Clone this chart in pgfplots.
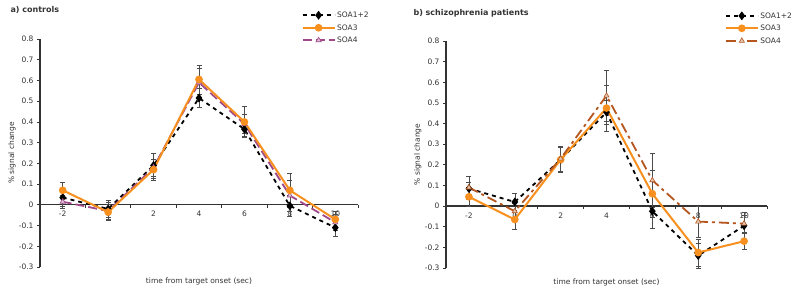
\documentclass[border=0pt]{standalone}
\usepackage{fontspec}
\setmainfont{DejaVu Sans}
\usepackage{pgfplots}
\pgfplotsset{compat=1.18}
\definecolor{cOr}{HTML}{F7901E}
\definecolor{cPu}{HTML}{A0488A}
\definecolor{cBr}{HTML}{B5561E}
\definecolor{cTx}{HTML}{333333}
\pgfplotsset{
  panel/.style={
    scale only axis, anchor=south west,
    xmin=-3, xmax=11, ymin=-0.3, ymax=0.8,
    axis x line=middle, axis y line=left,
    every inner x axis line/.append style={-},
    every outer y axis line/.append style={-},
    axis line style={line width=1.2pt, black!80},
    xtick={-2,0,2,4,6,8,10},
    minor xtick={-3,-1,1,3,5,7,9,11},
    ytick={-0.3,-0.2,-0.1,0,0.1,0.2,0.3,0.4,0.5,0.6,0.7,0.8},
    hide obscured x ticks=false, hide obscured y ticks=false,
    major x tick style={draw=none},
    minor x tick style={line width=0.8pt, black!80},
    y tick style={line width=0.8pt, black!80},
    tick align=outside, major tick length=3pt, minor tick length=3pt,
    ticklabel style={font=\fontsize{7.5}{9}\selectfont, text=cTx},
    /pgf/number format/fixed, /pgf/number format/precision=1,
    /pgf/number format/assume math mode=true,
    every axis x label/.style={at={(axis description cs:0.5,0)}, anchor=center, yshift=-14pt, font=\fontsize{7.5}{9}\selectfont, text=cTx},
    every axis y label/.style={at={(axis description cs:-0.088,0.5)}, rotate=90, anchor=center, font=\fontsize{7.5}{9}\selectfont, text=cTx},
    xlabel={time from target onset (sec)},
    ylabel={\% signal change},
    legend cell align=left,
    legend style={draw=none, fill=none, font=\fontsize{7.5}{9}\selectfont, text=cTx, anchor=north west, inner sep=0pt, row sep=2pt,
      nodes={inner sep=1.5pt, text height=6pt, text depth=1.5pt}},
    legend image code/.code={\draw[mark repeat=2,mark phase=2,##1] plot coordinates {(0pt,0pt) (16pt,0pt) (32pt,0pt)};},
  },
  eb/.style={
    /pgfplots/error bars/y dir=both, /pgfplots/error bars/y explicit,
    /pgfplots/error bars/error bar style={line width=0.5pt, black!70, solid},
    /pgfplots/error bars/error mark options={rotate=90, mark size=2.5pt, line width=0.5pt, black!70, solid},
  },
  s12/.style={black, line width=1.8pt, dash pattern=on 4pt off 4pt, mark=diamond*, mark size=3pt, mark options={solid, fill=black}},
  s3/.style={cOr, line width=2pt, mark=*, mark size=2.8pt, mark options={solid, fill=cOr}},
  s4a/.style={cPu, line width=1.8pt, dash pattern=on 9pt off 4pt, mark=triangle*, mark size=3pt, mark options={solid, fill=cPu!35, draw=cPu, line width=0.6pt}},
  s4b/.style={cBr, line width=1.8pt, dash pattern=on 10pt off 4pt on 3pt off 4pt, mark=triangle*, mark size=3pt, mark options={solid, fill=cBr!35, draw=cBr, line width=0.6pt}},
}
\begin{document}
\begin{tikzpicture}
\useasboundingbox (0,0) rectangle (800pt,292pt);
\node[anchor=west, font=\bfseries\fontsize{8}{10}\selectfont, text=cTx] at (7pt,282.5pt) {a) controls};
\node[anchor=west, font=\bfseries\fontsize{8}{10}\selectfont, text=cTx] at (410pt,278.5pt) {b) schizophrenia patients};
% a) controls
\begin{axis}[panel, at={(40pt,25pt)}, width=318pt, height=228pt,
  legend style={at={(axis description cs:0.822,1.128)}}]
\addlegendimage{s12}\addlegendentry{SOA1+2}
\addlegendimage{s3}\addlegendentry{SOA3}
\addlegendimage{s4a}\addlegendentry{SOA4}
\addplot[s12, eb, forget plot] coordinates {
 (-2,0.035) +- (0,0.04)
 (0,-0.02) +- (0,0.04)
 (2,0.19) +- (0,0.06)
 (4,0.515) +- (0,0.045)
 (6,0.365) +- (0,0.035)
 (8,-0.005) +- (0,0.05)
 (10,-0.11) +- (0,0.04)
};
\addplot[s4a, eb, forget plot] coordinates {
 (-2,0.015) +- (0,0.03)
 (0,-0.03) +- (0,0.04)
 (2,0.18) +- (0,0.04)
 (4,0.59) +- (0,0.07)
 (6,0.39) +- (0,0.045)
 (8,0.045) +- (0,0.075)
 (10,-0.085) +- (0,0.04)
};
\addplot[s3, eb, forget plot] coordinates {
 (-2,0.07) +- (0,0.04)
 (0,-0.035) +- (0,0.04)
 (2,0.17) +- (0,0.05)
 (4,0.605) +- (0,0.07)
 (6,0.40) +- (0,0.075)
 (8,0.07) +- (0,0.08)
 (10,-0.07) +- (0,0.04)
};
\end{axis}
% b) schizophrenia patients
\begin{axis}[panel, at={(446pt,24pt)}, width=321pt, height=227pt,
  legend style={at={(axis description cs:0.868,1.135)}}]
\addlegendimage{s12}\addlegendentry{SOA1+2}
\addlegendimage{s3}\addlegendentry{SOA3}
\addlegendimage{s4b}\addlegendentry{SOA4}
\addplot[s12, eb, forget plot] coordinates {
 (-2,0.085) +- (0,0.03)
 (0,0.02) +- (0,0.04)
 (2,0.225) +- (0,0.06)
 (4,0.455) +- (0,0.06)
 (6,-0.025) +- (0,0.08)
 (8,-0.24) +- (0,0.06)
 (10,-0.095) +- (0,0.065)
};
\addplot[s3, eb, forget plot] coordinates {
 (-2,0.045) +- (0,0.045)
 (0,-0.065) +- (0,0.045)
 (2,0.225) +- (0,0.06)
 (4,0.475) +- (0,0.11)
 (6,0.06) +- (0,0.115)
 (8,-0.225) +- (0,0.065)
 (10,-0.17) +- (0,0.04)
};
\addplot[s4b, eb, forget plot] coordinates {
 (-2,0.09) +- (0,0.055)
 (0,-0.025) +- (0,0.04)
 (2,0.23) +- (0,0.06)
 (4,0.535) +- (0,0.125)
 (6,0.125) +- (0,0.13)
 (8,-0.075) +- (0,0.075)
 (10,-0.085) +- (0,0.04)
};
\end{axis}
\end{tikzpicture}
\end{document}
